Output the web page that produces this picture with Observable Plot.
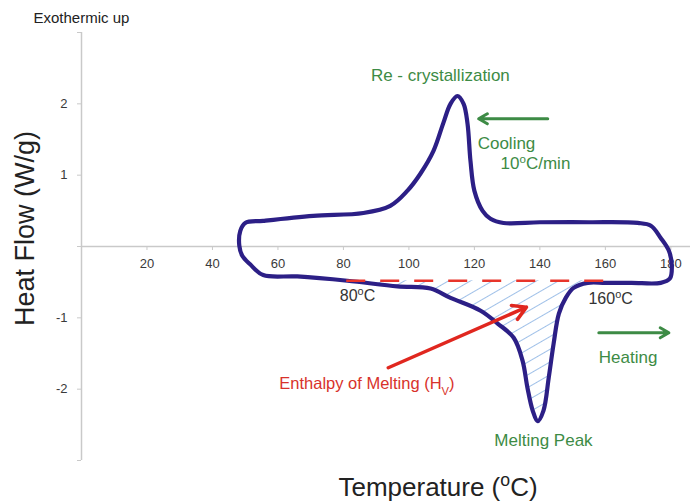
<!DOCTYPE html>
<html><head><meta charset="utf-8">
<script src="https://cdn.jsdelivr.net/npm/d3@7"></script>
<script src="https://cdn.jsdelivr.net/npm/@observablehq/plot@0.6"></script>
<style>html,body{margin:0;padding:0;background:#fff;} #chart svg{display:block;}</style>
</head><body><div id="chart"></div>
<script>
// ---- data (temperature in °C, heat flow in W/g) ----
// Heating branch (lower curve), left to right, incl. melting peak
const heatingT  = [49.1, 51.5, 55.5, 65.9, 81.2, 96.5, 106.6, 112.7, 121.9, 127.1, 132.0, 134.7, 136.2, 137.8, 139.3, 141.1, 142.7, 144.2, 145.8, 147.9, 150.3, 154.6, 160.0, 168.0, 176.9, 179.7, 180.3];
const heatingHF = [-0.13, -0.25, -0.40, -0.42, -0.48, -0.56, -0.59, -0.72, -0.90, -1.08, -1.28, -1.60, -1.98, -2.30, -2.45, -2.30, -1.84, -1.36, -0.94, -0.72, -0.58, -0.51, -0.51, -0.51, -0.51, -0.45, -0.28];
// Cooling branch (upper curve), right to left, incl. re-crystallization peak
const coolingT  = [179.4, 176.9, 173.9, 169.9, 155.0, 140.0, 128.9, 124.9, 122.5, 120.0, 118.8, 117.9, 116.7, 114.8, 112.7, 110.5, 107.5, 103.5, 99.5, 94.3, 86.1, 70.8, 55.5, 50.0, 48.5, 48.2];
const coolingHF = [-0.06, 0.12, 0.29, 0.33, 0.34, 0.34, 0.33, 0.39, 0.50, 0.78, 1.20, 1.72, 2.00, 2.11, 2.00, 1.73, 1.34, 1.02, 0.78, 0.57, 0.47, 0.43, 0.36, 0.33, 0.22, 0.01];
// Melting baseline (80 °C to 160 °C) and the integrated range
const baselineT  = [81, 161];
const baselineHF = -0.48;
const meltRange  = [81, 155];
// Axes
const xTicks = [20, 40, 60, 80, 100, 120, 140, 160, 180];
const yTicks = [-3, -2, -1, 0, 1, 2, 3];
const yTickLabels = ["", "-2", "-1", "", "1", "2", ""];
// Annotations (^x = superscript, _x = subscript)
const greenMidText = ["Re - crystallization", "Melting Peak"];
const greenMidT    = [109.6, 141.1];
const greenMidHF   = [2.40, -2.72];
const greenLeftText = ["Cooling", "10^oC/min", "Heating"];
const greenLeftT    = [121.0, 128.0, 158.0];
const greenLeftHF   = [1.45, 1.16, -1.56];
const tempText = ["80^oC", "160^oC"];
const tempT    = [84.3, 161.6];
const tempHF   = [-0.69, -0.73];
const redText = ["Enthalpy of Melting (H_V)"];
const redT    = [60.4];
const redHF   = [-1.92];
// Arrows: cooling (left), heating (right), enthalpy pointer
const greenArrowT1 = [142.4, 158.0];
const greenArrowT2 = [121.3, 179.4];
const greenArrowHF = [1.79, -1.21];
const redArrowT  = [93.7, 135.9];
const redArrowHF = [-1.70, -0.85];

// ---- tables built from arrays ----
const loop = heatingT.map((t, i) => ({t, hf: heatingHF[i]}))
  .concat(coolingT.map((t, i) => ({t, hf: coolingHF[i]})));
const melt = heatingT.map((t, i) => ({t, hf: heatingHF[i]}))
  .filter(d => d.t >= meltRange[0] && d.t <= meltRange[1]);
const tbl = (T, X, Y) => T.map((s, i) => ({s, t: X[i], hf: Y[i]}));

const GREEN = "#3d8b45", RED = "#e0271f", BLUE = "#2c1f86", AXIS = "#c9c9c9", TXT = "#3a3a3a";

const svg = Plot.plot({
  width: 696, height: 504,
  marginTop: 32, marginBottom: 44, marginLeft: 81, marginRight: 6,
  x: {domain: [0, 186], axis: null},
  y: {domain: [-3, 3], axis: null},
  style: {fontFamily: "'Liberation Sans', Arial, sans-serif", background: "#fff", color: TXT},
  marks: [
    Plot.areaY(melt, {x: "t", y1: baselineHF, y2: "hf", curve: "catmull-rom", fill: "url(#hatch)"}),
    Plot.ruleY([0], {stroke: AXIS, strokeWidth: 1.5}),
    Plot.ruleX([0], {stroke: AXIS, strokeWidth: 1.5}),
    Plot.ruleX(xTicks, {x: d => d, y1: 0, y2: 0, insetBottom: -4, stroke: AXIS}),
    Plot.ruleY(yTicks, {y: d => d, x1: 0, x2: 0, insetLeft: -4, stroke: AXIS}),
    Plot.text(xTicks, {x: d => d, y: 0, dy: 17, text: d => String(d), fontSize: 13, fill: TXT}),
    Plot.text(yTicks, {x: 0, y: d => d, dx: -14, text: (d, i) => yTickLabels[i], textAnchor: "end", fontSize: 13, fill: TXT}),
    Plot.line(loop, {x: "t", y: "hf", curve: "catmull-rom-closed", stroke: BLUE, strokeWidth: 4.2, strokeLinejoin: "round"}),
    Plot.ruleY([baselineHF], {x1: baselineT[0], x2: baselineT[1], stroke: "#e8352b", strokeWidth: 2.5, strokeDasharray: "19,15"}),
    Plot.arrow(greenArrowHF, {x1: (d, i) => greenArrowT1[i], x2: (d, i) => greenArrowT2[i], y1: d => d, y2: d => d, stroke: GREEN, strokeWidth: 3, headLength: 5}),
    Plot.arrow([0], {x1: redArrowT[0], y1: redArrowHF[0], x2: redArrowT[1], y2: redArrowHF[1], stroke: RED, strokeWidth: 3.5, headLength: 6.5}),
    Plot.text(tbl(greenMidText, greenMidT, greenMidHF), {x: "t", y: "hf", text: "s", fill: GREEN, fontSize: 17}),
    Plot.text(tbl(greenLeftText, greenLeftT, greenLeftHF), {x: "t", y: "hf", text: "s", fill: GREEN, fontSize: 17, textAnchor: "start"}),
    Plot.text(tbl(tempText, tempT, tempHF), {x: "t", y: "hf", text: "s", fill: "#333", fontSize: 16}),
    Plot.text(tbl(redText, redT, redHF), {x: "t", y: "hf", text: "s", fill: "#d8322b", fontSize: 16.5, textAnchor: "start"}),
    Plot.text(["Exothermic up"], {frameAnchor: "top-left", dx: -48, dy: -14, text: d => d, textAnchor: "start", lineAnchor: "middle", fontSize: 15, fill: "#222"}),
    Plot.text(["Heat Flow (W/g)"], {frameAnchor: "left", dx: -56, dy: -18, rotate: -90, text: d => d, textAnchor: "middle", lineAnchor: "middle", fontSize: 27, fill: "#222"}),
    Plot.text(["Temperature (^oC)"], {frameAnchor: "bottom", dx: 52, dy: 27, text: d => d, textAnchor: "middle", lineAnchor: "middle", fontSize: 26, fill: "#222"})
  ]
});

// hatch pattern for the enthalpy area
const NS = "http://www.w3.org/2000/svg";
const defs = document.createElementNS(NS, "defs");
const pat = document.createElementNS(NS, "pattern");
pat.setAttribute("id", "hatch");
pat.setAttribute("patternUnits", "userSpaceOnUse");
pat.setAttribute("width", "11");
pat.setAttribute("height", "11");
pat.setAttribute("patternTransform", "rotate(-30)");
const ln = document.createElementNS(NS, "line");
ln.setAttribute("x1", "0"); ln.setAttribute("y1", "5.5");
ln.setAttribute("x2", "11"); ln.setAttribute("y2", "5.5");
ln.setAttribute("stroke", "#9fc0e8"); ln.setAttribute("stroke-width", "1");
pat.appendChild(ln); defs.appendChild(pat);
svg.insertBefore(defs, svg.firstChild);

// superscripts / subscripts
svg.querySelectorAll("text").forEach(t => {
  const s = t.textContent;
  if (!/[\^_]\w/.test(s)) return;
  while (t.firstChild) t.removeChild(t.firstChild);
  const re = /([\^_])(\w)/g; let last = 0, m;
  while ((m = re.exec(s))) {
    if (m.index > last) t.appendChild(document.createTextNode(s.slice(last, m.index)));
    const ts = document.createElementNS(NS, "tspan");
    ts.setAttribute("baseline-shift", m[1] === "^" ? "super" : "sub");
    ts.setAttribute("font-size", "68%");
    ts.textContent = m[2];
    t.appendChild(ts);
    last = re.lastIndex;
  }
  if (last < s.length) t.appendChild(document.createTextNode(s.slice(last)));
});

document.getElementById("chart").appendChild(svg);
</script></body></html>
